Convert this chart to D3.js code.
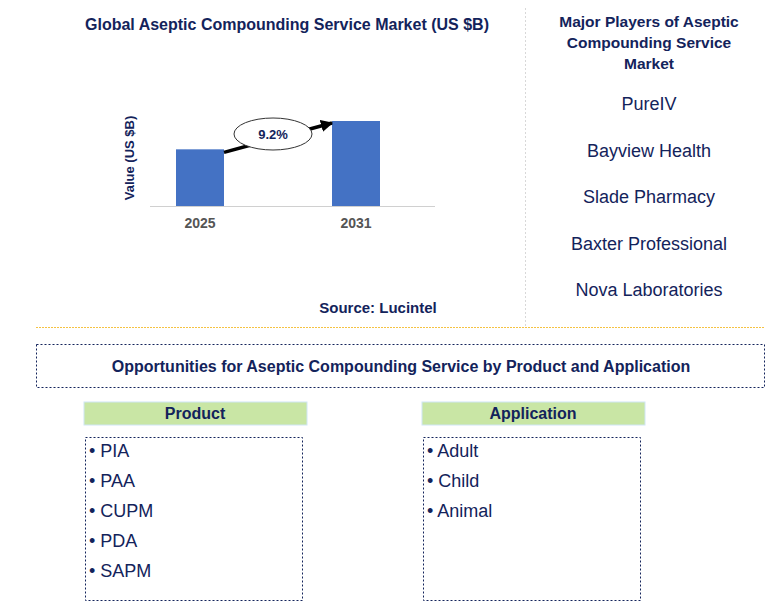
<!DOCTYPE html>
<html><head><meta charset="utf-8">
<script src="https://cdn.jsdelivr.net/npm/d3@7"></script>
<style>body{margin:0;background:#fff}svg{font-family:"Liberation Sans",Arial,sans-serif}</style>
</head><body><svg id="c" width="782" height="609"></svg>
<script>
var years = ["2025", "2031"];
var values = [2.0, 3.0];
var cagr = "9.2%";
var players = ["PureIV", "Bayview Health", "Slade Pharmacy", "Baxter Professional", "Nova Laboratories"];
var products = ["PIA", "PAA", "CUPM", "PDA", "SAPM"];
var applications = ["Adult", "Child", "Animal"];

var navy = "#13235b", svg = d3.select("#c");

svg.append("text").attr("x", 287).attr("y", 30).attr("text-anchor", "middle")
	.attr("font-size", 16).attr("font-weight", "bold").attr("fill", navy)
	.text("Global Aseptic Compounding Service Market (US $B)");

var x = d3.scalePoint().domain(years).range([200, 356]);
var bw = 48;
var y = d3.scaleLinear().domain([0, 3]).range([206, 121]);

svg.append("line").attr("x1", 150).attr("x2", 435).attr("y1", 206.5).attr("y2", 206.5)
	.attr("stroke", "#d0d0d0");
svg.selectAll("rect.bar").data(values).enter().append("rect").attr("class", "bar")
	.attr("x", function (d, i) { return x(years[i]) - bw / 2; })
	.attr("width", bw)
	.attr("y", function (d) { return y(d); })
	.attr("height", function (d) { return 206 - y(d); })
	.attr("fill", "#4472c4");
svg.selectAll("text.yr").data(years).enter().append("text")
	.attr("x", function (d) { return x(d); }).attr("y", 228)
	.attr("text-anchor", "middle").attr("font-size", 14).attr("font-weight", "bold")
	.attr("fill", "#555").text(function (d) { return d; });
svg.append("text").attr("transform", "translate(134,158) rotate(-90)").attr("text-anchor", "middle")
	.attr("font-size", 13).attr("font-weight", "bold").attr("fill", navy).text("Value (US $B)");

// arrow
var x0 = x(years[0]) + bw / 2, x1 = x(years[1]) - bw / 2;
svg.append("defs").append("marker").attr("id", "ah").attr("viewBox", "0 0 10 10")
	.attr("refX", 9).attr("refY", 5).attr("markerWidth", 3.5).attr("markerHeight", 3.5)
	.attr("orient", "auto").append("path").attr("d", "M0,0L10,5L0,10z").attr("fill", "#000");
svg.append("line").attr("x1", x0).attr("y1", y(values[0]) + 3).attr("x2", x1).attr("y2", y(values[1]) + 2)
	.attr("stroke", "#000").attr("stroke-width", 3.5).attr("marker-end", "url(#ah)");
svg.append("ellipse").attr("cx", 273).attr("cy", 134).attr("rx", 39).attr("ry", 16)
	.attr("fill", "#fff").attr("stroke", "#333");
svg.append("text").attr("x", 273).attr("y", 139).attr("text-anchor", "middle")
	.attr("font-size", 13).attr("font-weight", "bold").attr("fill", navy).text(cagr);

svg.append("text").attr("x", 378).attr("y", 313).attr("text-anchor", "middle")
	.attr("font-size", 15).attr("font-weight", "bold").attr("fill", navy).text("Source: Lucintel");

// separators
svg.append("line").attr("x1", 525.5).attr("x2", 525.5).attr("y1", 8).attr("y2", 328)
	.attr("stroke", "#d8d8d8").attr("stroke-dasharray", "2,2");
svg.append("line").attr("x1", 36).attr("x2", 764).attr("y1", 327.5).attr("y2", 327.5)
	.attr("stroke", "#f5c242").attr("stroke-dasharray", "2,1");

// players
svg.selectAll("text.ph").data(["Major Players of Aseptic", "Compounding Service", "Market"]).enter()
	.append("text").attr("x", 649).attr("y", function (d, i) { return 27 + i * 21; })
	.attr("text-anchor", "middle").attr("font-size", 15.5).attr("font-weight", "bold")
	.attr("fill", navy).text(function (d) { return d; });
svg.selectAll("text.pl").data(players).enter().append("text")
	.attr("x", 649).attr("y", function (d, i) { return 110 + i * 46.5; })
	.attr("text-anchor", "middle").attr("font-size", 18).attr("fill", navy).text(function (d) { return d; });

// opportunities
svg.append("rect").attr("x", 36.5).attr("y", 344.5).attr("width", 728).attr("height", 43)
	.attr("fill", "none").attr("stroke", navy).attr("stroke-dasharray", "2,2");
svg.append("text").attr("x", 401).attr("y", 372).attr("text-anchor", "middle")
	.attr("font-size", 16).attr("font-weight", "bold").attr("fill", navy)
	.text("Opportunities for Aseptic Compounding Service by Product and Application");

function panel(px, title, items) {
	svg.append("rect").attr("x", px).attr("y", 402).attr("width", 223).attr("height", 23)
		.attr("fill", "#c9e6a5").attr("stroke", "#cfe6f5");
	svg.append("text").attr("x", px + 111).attr("y", 419).attr("text-anchor", "middle")
		.attr("font-size", 16).attr("font-weight", "bold").attr("fill", navy).text(title);
	svg.append("rect").attr("x", px + 1.5).attr("y", 437.5).attr("width", 217).attr("height", 163)
		.attr("fill", "none").attr("stroke", navy).attr("stroke-dasharray", "2,2");
	svg.selectAll(null).data(items).enter().append("text")
		.attr("x", px + 5).attr("y", function (d, i) { return 457 + i * 30; })
		.attr("font-size", 18).attr("fill", navy).text(function (d) { return "\u2022 " + d; });
}
panel(84, "Product", products);
panel(422, "Application", applications);
</script></body></html>
